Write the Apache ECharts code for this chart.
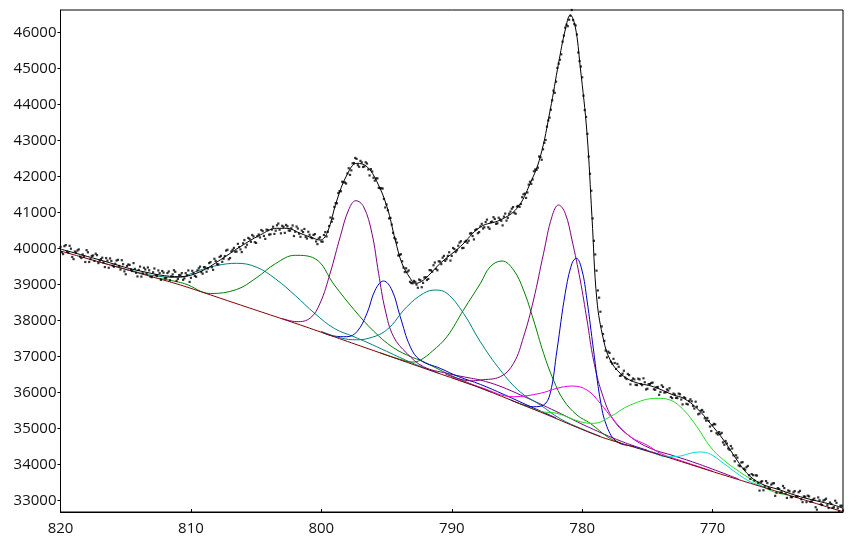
<!DOCTYPE html>
<html><head><meta charset="utf-8">
<script src="https://cdn.jsdelivr.net/npm/echarts@6/dist/echarts.min.js"></script>
<style>html,body{margin:0;padding:0;background:#fff}#c{width:853px;height:540px}</style>
</head><body><div id="c"></div>
<script>
var xTicks = [820, 810, 800, 790, 780, 770];
var yTicks = [33000, 34000, 35000, 36000, 37000, 38000, 39000, 40000, 41000, 42000, 43000, 44000, 45000, 46000];

var background = [[820,39936],[815.4,39464],[810.8,38991],[806.2,38436],[801.6,37880],[797,37297],[792.4,36713],[787.8,36130],[783.2,35463],[778.6,34777],[774,34269],[769.4,33741],[764.8,33227],[760,32693]];

var teal1 = [[817,39630],[814.5,39385],[813,39260],[811,39199],[809.5,39380],[808,39533],[806.5,39594],[805,39491],[803.5,39158],[802,38699],[800.5,38199],[799,37783],[797.5,37555],[796.5,37400],[795,37150],[793,36820],[791,36540]];
var green1 = [[812.5,39180],[810.5,39030],[808.5,38755],[806.5,38866],[805,39185],[803.5,39588],[802,39816],[800.5,39727],[799,38991],[797.5,38310],[796,37713],[794.5,37255],[793,36977],[792.4,36900],[791,36650],[790,36470],[788.5,36240],[787,36020]];
var purple1 = [[803,38060],[801.87,37972],[800.85,38074],[800.09,38491],[799.32,39324],[798.55,40333],[797.91,41075],[797.35,41333],[796.76,41166],[796.12,40427],[795.61,39316],[795.1,38297],[794.46,37555],[793.44,37094],[792.16,36721],[790.37,36538],[788.5,36400],[787.81,36352],[786.3,36180],[784.5,35900],[782,35480],[779.5,35040],[777,34650],[775,34400]];
var blue1 = [[800,37690],[799,37570],[798.04,37555],[797.27,37694],[796.5,38205],[795.87,38852],[795.23,39102],[794.59,38852],[793.95,38110],[793.18,37277],[792.42,36907],[790.89,36677],[789.5,36450],[787.8,36230],[786,35950],[784,35620],[782,35300]];
var teal2 = [[800,37700],[798.5,37520],[797.3,37470],[796.5,37500],[795,37741],[793.44,38388],[792.16,38760],[791.26,38852],[790.37,38760],[789.1,38205],[787.81,37416],[786.28,36630],[784.75,36019],[783.2,35658],[781.7,35280],[780,34990],[778.6,34790]];
var green2 = [[795.5,37110],[794,36930],[793,36850],[792.4,36907],[791.5,37150],[790.37,37555],[789.1,38297],[787.8,39038],[787.05,39500],[786.15,39658],[785.26,39408],[784.5,38852],[783.73,38019],[782.96,37094],[782.2,36352],[781.43,35796],[780.4,35380],[779.38,35149],[778,34760],[777,34600]];
var purple2 = [[790.5,36520],[788.5,36330],[787.81,36352],[786.28,36444],[785.26,36816],[784.49,37555],[783.73,38574],[782.96,39872],[782.32,40888],[781.81,41214],[781.3,40983],[780.78,40241],[780.15,39130],[779.63,38019],[779.13,36907],[778.48,35983],[777.59,35241],[776.31,34777],[774.78,34455],[773,34250],[771,34010],[768,33600]];
var blue2 = [[785.5,35800],[784.5,35660],[783.73,35610],[782.96,35658],[782.45,35983],[781.93,37185],[781.3,38760],[780.78,39594],[780.45,39733],[780.02,39408],[779.63,38574],[779.13,37185],[778.61,35796],[778.1,35055],[777.33,34638],[776,34500],[774,34280]];
var magenta = [[790,36420],[787.8,36150],[785.26,35888],[783.21,35983],[781.93,36122],[780.78,36185],[779.63,36074],[778.61,35705],[777.59,35241],[776.31,34777],[775.03,34546],[774.01,34316],[772.5,34120],[770,33820]];
var lime = [[785,35730],[783.2,35480],[781.93,35427],[780.15,35194],[779.13,35149],[777.85,35332],[776.31,35658],[774.26,35844],[773.25,35796],[772.22,35519],[771.2,35055],[770.18,34499],[769.16,34130],[768.13,33852],[767.36,33666],[766.34,33435],[765.34,33249],[764,33140]];
var cyan = [[776,34490],[774.78,34354],[773.5,34221],[772.48,34241],[771.71,34316],[770.95,34352],[770.18,34296],[769.16,34038],[768.13,33760],[767.36,33574],[766.88,33490],[765.5,33310]];

var envelope = [[820,39990],[816.96,39686],[813.89,39380],[810.82,39222],[809.29,39361],[807.76,39686],[806.22,40055],[804.69,40380],[803.41,40566],[802.64,40566],[801.62,40427],[800.6,40288],[800.09,40241],[799.57,40427],[798.8,41352],[798.04,42047],[797.27,42372],[796.5,42278],[795.74,41861],[794.97,41166],[794.33,40241],[793.82,39594],[793.18,39177],[792.8,39038],[792.16,39130],[790.88,39594],[789.35,40055],[787.81,40602],[786.28,40797],[785,41122],[783.98,41816],[783.21,42555],[782.45,43853],[781.81,45150],[781.3,46075],[780.91,46492],[780.53,46167],[780.15,45056],[779.63,43205],[779.25,40889],[778.87,38574],[778.36,37463],[777.85,36907],[777.08,36538],[776.06,36305],[774.53,36166],[773,35935],[772.22,35844],[771.2,35566],[770.18,35149],[769.16,34686],[768.13,34130],[767.36,33760],[766.34,33482],[764.81,33296],[763.28,33110],[760.72,32880],[760,32790]];

var points = [[820.0,40050],[819.8,39850],[819.6,40100],[819.4,39890],[819.2,40000],[819.0,39710],[818.8,39890],[818.6,39980],[818.4,39740],[818.2,39780],[818.0,39960],[817.8,39630],[817.6,39800],[817.4,39660],[817.2,39820],[817.0,39670],[816.8,39750],[816.6,39490],[816.4,39670],[816.2,39730],[816.0,39530],[815.8,39580],[815.6,39690],[815.4,39420],[815.2,39570],[815.0,39290],[814.8,39560],[814.6,39420],[814.4,39600],[814.2,39330],[814.0,39410],[813.8,39225],[813.6,39470],[813.4,39305],[813.2,39400],[813.0,39210],[812.8,39450],[812.6,39240],[812.4,39320],[812.2,39380],[812.0,39180],[811.8,39322],[811.6,39124],[811.4,39286],[811.2,39358],[811.0,39160],[810.8,39260],[810.6,39135],[810.4,39320],[810.2,39395],[810.0,39190],[809.8,39320],[809.6,39220],[809.4,39455],[809.2,39350],[809.0,39490],[808.8,39360],[808.6,39600],[808.4,39485],[808.2,39720],[808.0,39570],[807.8,39770],[807.6,39635],[807.4,39795],[807.2,39970],[807.0,39740],[806.8,39970],[806.6,39915],[806.4,40135],[806.2,39980],[806.0,40150],[805.8,40040],[805.6,40300],[805.4,40190],[805.2,40340],[805.0,40160],[804.8,40395],[804.6,40520],[804.4,40355],[804.2,40530],[804.0,40390],[803.8,40530],[803.6,40410],[803.4,40650],[803.2,40528],[803.0,40636],[802.8,40440],[802.6,40620],[802.4,40500],[802.2,40645],[802.0,40470],[801.8,40560],[801.6,40330],[801.4,40460],[801.2,40325],[801.0,40470],[800.8,40315],[800.6,40380],[800.4,40200],[800.2,40285],[800.0,40200],[799.8,40380],[799.6,40340],[799.4,40630],[799.2,40750],[799.0,41160],[798.8,41260],[798.6,41600],[798.4,41860],[798.2,41840],[798.0,42090],[797.8,42050],[797.6,42370],[797.4,42520],[797.2,42320],[797.0,42440],[796.8,42270],[796.6,42400],[796.4,42200],[796.2,42210],[796.0,41970],[795.8,41950],[795.6,41690],[795.4,41680],[795.2,41380],[795.0,41230],[794.8,40840],[794.6,40670],[794.4,40300],[794.2,40170],[794.0,39830],[793.8,39650],[793.6,39350],[793.4,39360],[793.2,39080],[793.0,39040],[792.8,39080],[792.6,38915],[792.4,39120],[792.2,39050],[792.0,39210],[791.8,39160],[791.6,39400],[791.4,39540],[791.2,39440],[791.0,39650],[790.8,39570],[790.6,39800],[790.4,39710],[790.2,39900],[790.0,39800],[789.8,39990],[789.6,39955],[789.4,40170],[789.2,40015],[789.0,40190],[788.8,40165],[788.6,40420],[788.4,40350],[788.2,40515],[788.0,40430],[787.8,40620],[787.6,40560],[787.4,40740],[787.2,40595],[787.0,40740],[786.8,40875],[786.6,40690],[786.4,40860],[786.2,40775],[786.0,40890],[785.8,40780],[785.6,40970],[785.4,41110],[785.2,41000],[785.0,41170],[784.8,41160],[784.6,41430],[784.4,41530],[784.2,41560],[784.0,41860],[783.8,41920],[783.6,42200],[783.4,42250],[783.2,42540],[783.0,42760],[782.8,43020],[782.6,43560],[782.4,43860],[782.2,44390],[782.0,44640],[781.8,45140],[781.6,45400],[781.4,45920],[781.2,46220],[781.0,46360],[780.8,46630],[780.6,46240],[780.4,45950],[780.2,45210],[780.0,44760],[779.8,43850],[779.6,43190],[779.4,42080],[779.2,40840],[779.0,39840],[778.8,38840],[778.6,38250],[778.4,37630],[778.2,37170],[778.0,37140],[777.8,36860],[777.6,36940],[777.4,36660],[777.2,36720],[777.0,36480],[776.8,36610],[776.6,36380],[776.4,36490],[776.2,36340],[776.0,36370],[775.8,36210],[775.6,36370],[775.4,36210],[775.2,36290],[775.0,36110],[774.8,36240],[774.6,36280],[774.4,36080],[774.2,36160],[774.0,36020],[773.8,36160],[773.6,36010],[773.4,36060],[773.2,35880],[773.0,35975],[772.8,35855],[772.6,35975],[772.4,35810],[772.2,35870],[772.0,35690],[771.8,35770],[771.6,35760],[771.4,35560],[771.2,35610],[771.0,35420],[770.8,35520],[770.6,35290],[770.4,35300],[770.2,35060],[770.0,35100],[769.8,35120],[769.6,34840],[769.4,34850],[769.2,34620],[769.0,34660],[768.8,34450],[768.6,34520],[768.4,34260],[768.2,34260],[768.0,33980],[767.8,34060],[767.6,33890],[767.4,33930],[767.2,33710],[767.0,33740],[766.8,33560],[766.6,33700],[766.4,33280],[766.2,33540],[766.0,33400],[765.8,33490],[765.6,33330],[765.4,33480],[765.2,33135],[765.0,33350],[764.8,33225],[764.6,33410],[764.4,33200],[764.2,33285],[764.0,33100],[763.8,33230],[763.6,33115],[763.4,33235],[763.2,33040],[763.0,33120],[762.8,32960],[762.6,33120],[762.4,32980],[762.2,33060],[762.0,32750],[761.8,33010],[761.6,32880],[761.4,33025],[761.2,32875],[761.0,32950],[760.8,32800],[760.6,33000],[760.4,32790],[760.2,32860],[760.0,32730]];

var points2 = [[819.9,39900],[819.7,40070],[819.5,39920],[819.3,40080],[819.1,39770],[818.9,39920],[818.7,39950],[818.5,39780],[818.3,39840],[818.1,39630],[817.9,39900],[817.7,39710],[817.5,39810],[817.3,39860],[817.1,39600],[816.9,39710],[816.7,39620],[816.5,39740],[816.3,39470],[816.1,39660],[815.9,39500],[815.7,39670],[815.5,39520],[815.3,39680],[815.1,39370],[814.9,39520],[814.7,39550],[814.5,39380],[814.3,39440],[814.1,39230],[813.9,39503],[813.7,39318],[813.5,39423],[813.3,39478],[813.1,39225],[812.9,39345],[812.7,39265],[812.5,39395],[812.3,39135],[812.1,39335],[811.9,39186],[811.7,39368],[811.5,39230],[811.3,39402],[811.1,39104],[810.9,39270],[810.7,39322],[810.5,39177],[810.3,39262],[810.1,39077],[809.9,39385],[809.7,39245],[809.5,39397],[809.3,39502],[809.1,39305],[808.9,39480],[808.7,39450],[808.5,39627],[808.3,39412],[808.1,39660],[807.9,39565],[807.7,39802],[807.5,39720],[807.3,39947],[807.1,39705],[806.9,39925],[806.7,40022],[806.5,39920],[806.3,40047],[806.1,39905],[805.9,40240],[805.7,40110],[805.5,40270],[805.3,40380],[805.1,40180],[804.9,40347],[804.7,40312],[804.5,40487],[804.3,40272],[804.1,40515],[803.9,40400],[803.7,40610],[803.5,40500],[803.3,40699],[803.1,40427],[802.9,40608],[802.7,40660],[802.5,40505],[802.3,40567],[802.1,40352],[801.9,40615],[801.7,40415],[801.5,40505],[801.3,40547],[801.1,40282],[800.9,40387],[800.7,40292],[800.5,40405],[800.3,40127],[800.1,40317],[799.9,40195],[799.7,40460],[799.5,40470],[799.3,40865],[799.1,40835],[798.9,41265],[798.7,41545],[798.5,41595],[798.3,41845],[798.1,41810],[797.9,42235],[797.7,42175],[797.5,42380],[797.3,42495],[797.1,42275],[796.9,42395],[796.7,42285],[796.5,42365],[796.3,42035],[796.1,42145],[795.9,41890],[795.7,41955],[795.5,41680],[795.3,41670],[795.1,41145],[794.9,41065],[794.7,40855],[794.5,40440],[794.3,40260],[794.1,39810],[793.9,39845],[793.7,39475],[793.5,39455],[793.3,39395],[793.1,39045],[792.9,39105],[792.7,39002],[792.5,39142],[792.3,38930],[792.1,39200],[791.9,39130],[791.7,39405],[791.5,39360],[791.3,39615],[791.1,39400],[790.9,39640],[790.7,39750],[790.5,39660],[790.3,39800],[790.1,39670],[789.9,40020],[789.7,39907],[789.5,40082],[789.3,40207],[789.1,40022],[788.9,40217],[788.7,40222],[788.5,40435],[788.3,40257],[788.1,40542],[787.9,40460],[787.7,40690],[787.5,40595],[787.3,40807],[787.1,40552],[786.9,40752],[786.7,40827],[786.5,40705],[786.3,40812],[786.1,40647],[785.9,40975],[785.7,40855],[785.5,41030],[785.3,41155],[785.1,40970],[784.9,41190],[784.7,41240],[784.5,41510],[784.3,41410],[784.1,41780],[783.9,41800],[783.7,42150],[783.5,42190],[783.3,42560],[783.1,42470],[782.9,42940],[782.7,43390],[782.5,43640],[782.3,44120],[782.1,44330],[781.9,45020],[781.7,45250],[781.5,45750],[781.3,46140],[781.1,46180],[780.9,46470],[780.7,46350],[780.5,46200],[780.3,45450],[780.1,45060],[779.9,44250],[779.7,43660],[779.5,42560],[779.3,41610],[779.1,40220],[778.9,39390],[778.7,38640],[778.5,37840],[778.3,37440],[778.1,36980],[777.9,37105],[777.7,36810],[777.5,36825],[777.3,36800],[777.1,36465],[776.9,36530],[776.7,36420],[776.5,36520],[776.3,36230],[776.1,36395],[775.9,36220],[775.7,36390],[775.5,36240],[775.3,36400],[775.1,36090],[774.9,36240],[774.7,36270],[774.5,36095],[774.3,36150],[774.1,35940],[773.9,36205],[773.7,36005],[773.5,36090],[773.3,36125],[773.1,35850],[772.9,35950],[772.7,35850],[772.5,35957],[772.3,35675],[772.1,35855],[771.9,35675],[771.7,35815],[771.5,35630],[771.3,35750],[771.1,35400],[770.9,35500],[770.7,35465],[770.5,35225],[770.3,35215],[770.1,34935],[769.9,35135],[769.7,34875],[769.5,34905],[769.3,34885],[769.1,34555],[768.9,34590],[768.7,34415],[768.5,34450],[768.3,34095],[768.1,34195],[767.9,33960],[767.7,34070],[767.5,33860],[767.3,33965],[767.1,33605],[766.9,33710],[766.7,33705],[766.5,33500],[766.3,33525],[766.1,33290],[765.9,33545],[765.7,33350],[765.5,33445],[765.3,33487],[765.1,33222],[764.9,33327],[764.7,33232],[764.5,33350],[764.3,33077],[764.1,33262],[763.9,33100],[763.7,33267],[763.5,33115],[763.3,33272],[763.1,32960],[762.9,33110],[762.7,33140],[762.5,32970],[762.3,33030],[762.1,32820],[761.9,33090],[761.7,32900],[761.5,33002],[761.3,33055],[761.1,32797],[760.9,32910],[760.7,32820],[760.5,32940],[760.3,32700],[760.1,32860]];

var chart = echarts.init(document.getElementById('c'), null, {renderer: 'canvas'});
function comp(data, color, z) {
  return {type: 'line', data: data, showSymbol: false, smooth: 0.4,
    lineStyle: {color: color, width: 1}, z: z, silent: true};
}
function plain(v) { return String(v); }
var font = {fontFamily: 'Open Sans', fontSize: 15, color: '#111'};
chart.setOption({
  animation: false,
  backgroundColor: '#fff',
  grid: {left: 60.5, right: 10, top: 10, bottom: 28, show: true, borderColor: '#000', borderWidth: 1, containLabel: false},
  xAxis: {type: 'value', min: 760, max: 820, inverse: true, interval: 10,
    axisLine: {show: true, lineStyle: {color: '#000', width: 1}},
    axisTick: {show: true, inside: true, length: 3, customValues: xTicks, lineStyle: {color: '#000'}},
    axisLabel: Object.assign({margin: 9, customValues: xTicks, formatter: plain}, font),
    splitLine: {show: false}},
  yAxis: {type: 'value', min: 32686, max: 46630,
    axisLine: {show: true, lineStyle: {color: '#000', width: 1}},
    axisTick: {show: true, inside: false, length: 3, customValues: yTicks, lineStyle: {color: '#000'}},
    axisLabel: Object.assign({margin: 4, customValues: yTicks, formatter: plain}, font),
    splitLine: {show: false}},
  series: [
    comp(teal1, '#008080', 2), comp(green1, '#008000', 2), comp(purple1, '#800080', 2), comp(blue1, '#0000c8', 2),
    comp(teal2, '#008080', 2), comp(green2, '#008000', 2), comp(purple2, '#800080', 2), comp(blue2, '#0000c8', 2),
    comp(magenta, '#ee00ee', 2), comp(lime, '#22dd22', 2), comp(cyan, '#00dddd', 2),
    {type: 'line', data: background, showSymbol: false, smooth: 0.2, lineStyle: {color: '#800000', width: 1}, z: 3, silent: true},
    {type: 'line', data: envelope, showSymbol: false, smooth: 0.4, lineStyle: {color: '#000', width: 1}, z: 4, silent: true},
    {type: 'scatter', data: points, symbol: 'rect', symbolSize: 2.2, itemStyle: {color: '#000'}, z: 5, silent: true},
    {type: 'scatter', data: points2, symbol: 'rect', symbolSize: 2.2, itemStyle: {color: '#000'}, z: 5, silent: true}
  ]
});
</script></body></html>
